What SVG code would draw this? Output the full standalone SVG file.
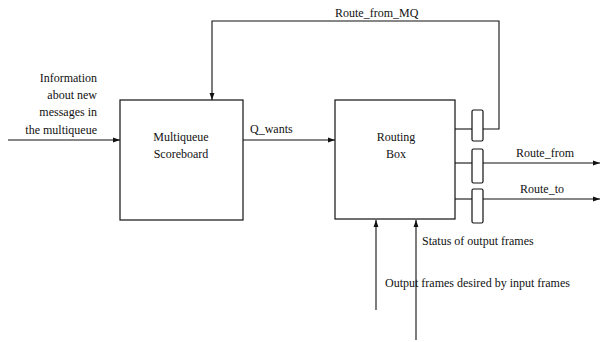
<svg xmlns="http://www.w3.org/2000/svg" width="602" height="342" viewBox="0 0 602 342">
<style>
.t{font-family:"Liberation Serif","Times New Roman",serif;font-size:12px;fill:#111}
.b{fill:#fff;stroke:#111;stroke-width:1.2}
.c{fill:none;stroke:#111;stroke-width:1.1}
</style>
<defs>
<marker id="ah" viewBox="0 0 10 10" refX="10" refY="5" markerWidth="7" markerHeight="7" markerUnits="userSpaceOnUse" orient="auto">
<path d="M0,1.5 L10,5 L0,8.5 Z" fill="#111"/>
</marker>
</defs>
<rect width="602" height="342" fill="#fff"/>
<g id="connectors">
<path class="c" d="M8,140 H120" marker-end="url(#ah)"/>
<path class="c" d="M243,140 H335" marker-end="url(#ah)"/>
<path class="c" d="M483,129 H499 V21 H212 V100" marker-end="url(#ah)"/>
<path class="c" d="M455,129 H472"/>
<path class="c" d="M455,163 H472"/>
<path class="c" d="M455,199 H472"/>
<path class="c" d="M483,163 H600" marker-end="url(#ah)"/>
<path class="c" d="M483,199 H600" marker-end="url(#ah)"/>
<path class="c" d="M376,310 V220" marker-end="url(#ah)"/>
<path class="c" d="M416,340 V220" marker-end="url(#ah)"/>
</g>
<g id="multiqueue-scoreboard">
<rect class="b" x="120" y="100" width="123" height="120"/>
<text class="t" x="181" y="141" text-anchor="middle" font-size="11">Multiqueue</text>
<text class="t" x="181" y="158" text-anchor="middle" font-size="11">Scoreboard</text>
</g>
<g id="routing-box">
<rect class="b" x="335" y="100" width="120" height="119"/>
<text class="t" x="396" y="141" text-anchor="middle">Routing</text>
<text class="t" x="396" y="158" text-anchor="middle">Box</text>
</g>
<g id="buffer-1"><rect class="b" x="472" y="110" width="11" height="31" rx="1.5"/></g>
<g id="buffer-2"><rect class="b" x="472" y="149" width="11" height="34" rx="1.5"/></g>
<g id="buffer-3"><rect class="b" x="472" y="189" width="11" height="34" rx="1.5"/></g>
<g id="labels">
<text class="t" x="97" y="82" text-anchor="end">Information</text>
<text class="t" x="97" y="99" text-anchor="end">about new</text>
<text class="t" x="97" y="116" text-anchor="end">messages in</text>
<text class="t" x="97" y="134" text-anchor="end">the multiqueue</text>
<text class="t" x="250" y="133">Q_wants</text>
<text class="t" x="335" y="17">Route_from_MQ</text>
<text class="t" x="516" y="157">Route_from</text>
<text class="t" x="520" y="193">Route_to</text>
<text class="t" x="422" y="245">Status of output frames</text>
<text class="t" x="385" y="287">Output frames desired by input frames</text>
</g>
</svg>
